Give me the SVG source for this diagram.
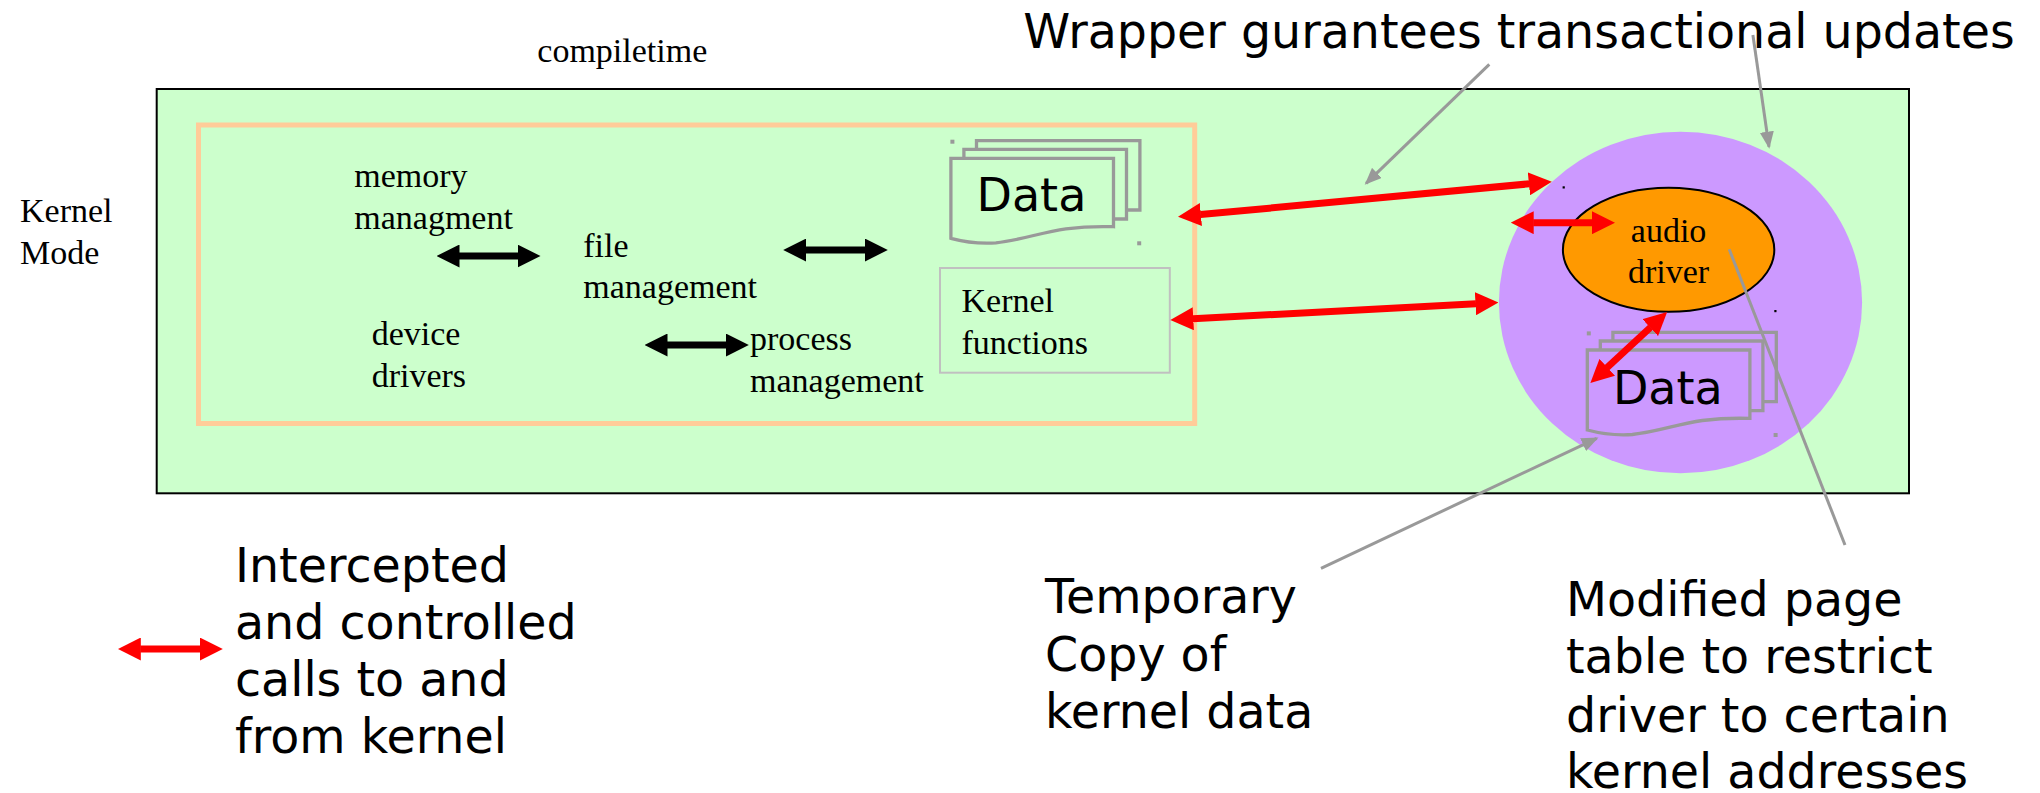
<svg xmlns="http://www.w3.org/2000/svg" width="2040" height="793" viewBox="0 0 2040 793">
<style>
.serif{font-family:"Liberation Serif","Times New Roman",serif;font-size:34px;fill:#000}
.sans{font-family:"DejaVu Sans","Noto Sans",sans-serif;font-size:47.5px;fill:#000}
.data{font-family:"DejaVu Sans","Noto Sans",sans-serif;font-size:46px;fill:#000}
.doc{fill:none;stroke:#999999;stroke-width:3.3}
.red{stroke:#ff0000;stroke-width:7;fill:none;marker-start:url(#rh);marker-end:url(#rh)}
.blk{stroke:#000;stroke-width:7;fill:none;marker-start:url(#bh);marker-end:url(#bh)}
.gray{stroke:#999999;stroke-width:3;fill:none}
.garr{marker-end:url(#gh)}
</style>
<defs>
<marker id="rh" viewBox="0 0 23 23" markerWidth="23" markerHeight="23" refX="0.5" refY="11.5" markerUnits="userSpaceOnUse" orient="auto-start-reverse">
<path d="M0,0 L23,11.5 L0,23 Z" fill="#ff0000"/>
</marker>
<marker id="bh" viewBox="0 0 23 23" markerWidth="23" markerHeight="23" refX="0.5" refY="11.5" markerUnits="userSpaceOnUse" orient="auto-start-reverse">
<path d="M0,0 L23,11.5 L0,23 Z" fill="#000"/>
</marker>
<marker id="gh" viewBox="0 0 17 14" markerWidth="17" markerHeight="14" refX="15" refY="7" markerUnits="userSpaceOnUse" orient="auto">
<path d="M0,0 L17,7 L0,14 Z" fill="#999999"/>
</marker>
<g id="docs">
<polyline class="doc" points="25.6,-9 25.6,-17.6 189,-17.6 189,51.7 175.6,51.7"/>
<polyline class="doc" points="13,0 13,-9 175.6,-9 175.6,60.7 162.6,60.7"/>
<path class="doc" d="M0,0 H162.6 V68.4 C150,68 135,68 115,70.5 C90,74 70,82 45,84.5 C30,85.5 15,84 0,80 Z"/>
<rect x="-0.5" y="-18.6" width="4" height="4" fill="#999999"/>
<rect x="186.3" y="83" width="4" height="4" fill="#999999"/>
</g>
</defs>

<g id="kernel-space">
<rect x="156.7" y="89" width="1752.3" height="404.3" fill="#ccffcc" stroke="#000" stroke-width="2"/>
</g>
<g id="compiletime-box">
<rect x="198.5" y="125" width="996.2" height="298.5" fill="none" stroke="#ffcc99" stroke-width="5"/>
</g>

<g id="data-kernel">
<use href="#docs" x="950.9" y="158.3"/>
<text class="data" x="976.5" y="211">Data</text>
</g>
<g id="kernel-functions">
<rect x="940" y="268" width="229.8" height="104.7" fill="none" stroke="#c0c0c0" stroke-width="2"/>
<text class="serif" x="961.5" y="312.3">Kernel</text>
<text class="serif" x="961.5" y="354">functions</text>
</g>

<g id="wrapper">
<ellipse cx="1680.5" cy="302.5" rx="181.6" ry="170.8" fill="#cc99ff"/>
<rect x="1562.6" y="186.3" width="2.2" height="2.2" fill="#000"/>
<rect x="1774.3" y="310" width="2.2" height="2.2" fill="#000"/>
</g>
<g id="audio-driver">
<ellipse cx="1668.6" cy="249.7" rx="105.7" ry="62" fill="#ff9900" stroke="#000" stroke-width="2"/>
<text class="serif" x="1668.6" y="241.7" text-anchor="middle">audio</text>
<text class="serif" x="1668.6" y="283.3" text-anchor="middle">driver</text>
</g>
<g id="data-copy">
<use href="#docs" x="1587.3" y="350"/>
<text class="data" x="1612.9" y="404">Data</text>
</g>

<g id="labels">
<text class="serif" x="537.3" y="61.7">compiletime</text>
<text class="serif" x="20" y="221.7">Kernel</text>
<text class="serif" x="20" y="264">Mode</text>
<text class="serif" x="354.3" y="186.7">memory</text>
<text class="serif" x="354.3" y="229">managment</text>
<text class="serif" x="583.3" y="256.7">file</text>
<text class="serif" x="583.3" y="298.3">management</text>
<text class="serif" x="371.7" y="345">device</text>
<text class="serif" x="371.7" y="386.7">drivers</text>
<text class="serif" x="750" y="350">process</text>
<text class="serif" x="750" y="391.7">management</text>
<text class="sans" x="1023.3" y="48.3">Wrapper gurantees transactional updates</text>
<text class="sans" x="235" y="581.7">Intercepted</text>
<text class="sans" x="235" y="639">and controlled</text>
<text class="sans" x="235" y="695.7">calls to and</text>
<text class="sans" x="235" y="753.3">from kernel</text>
<text class="sans" x="1045" y="613.3">Temporary</text>
<text class="sans" x="1045" y="671">Copy of</text>
<text class="sans" x="1045" y="727.7">kernel data</text>
<text class="sans" x="1566" y="616">Modified page</text>
<text class="sans" x="1566" y="673.3">table to restrict</text>
<text class="sans" x="1566" y="731.7">driver to certain</text>
<text class="sans" x="1566" y="788.3">kernel addresses</text>
</g>

<g id="connectors">
<line class="blk" x1="459" y1="256" x2="518" y2="256"/>
<line class="blk" x1="805.7" y1="250" x2="865.3" y2="250"/>
<line class="blk" x1="667" y1="345" x2="726.3" y2="345"/>
<line class="red" x1="1200.4" y1="214.6" x2="1529.4" y2="183.8"/>
<line class="red" x1="1192.8" y1="318.8" x2="1476" y2="303.7"/>
<line class="red" x1="1533.2" y1="222.7" x2="1592.5" y2="222.7"/>
<line class="red" x1="1650.6" y1="327.3" x2="1606.9" y2="367.7"/>
<line class="red" x1="140.3" y1="649" x2="200.3" y2="649"/>
<line class="gray garr" x1="1489.3" y1="64.3" x2="1366.1" y2="183.3"/>
<line class="gray garr" x1="1752.9" y1="35" x2="1769" y2="146.7"/>
<line class="gray garr" x1="1321" y1="568.3" x2="1596.7" y2="438.3"/>
<line class="gray" x1="1845" y1="545" x2="1729.2" y2="249.3"/>
</g>
</svg>
